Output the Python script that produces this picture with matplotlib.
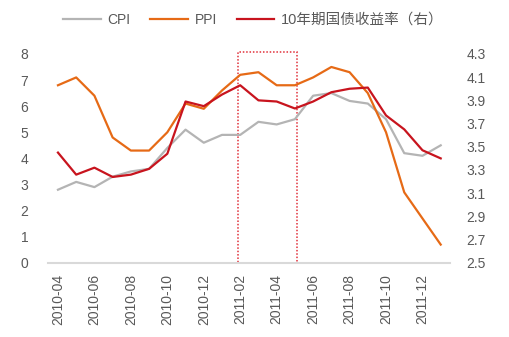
import matplotlib
matplotlib.use("Agg")
import matplotlib.pyplot as plt
from matplotlib.patches import Rectangle

plt.rcParams['font.family'] = ['Liberation Sans', 'Noto Sans CJK SC', 'DejaVu Sans']

# monthly data 2010-04 .. 2012-01
months = ['2010-04', '2010-05', '2010-06', '2010-07', '2010-08', '2010-09',
          '2010-10', '2010-11', '2010-12', '2011-01', '2011-02', '2011-03',
          '2011-04', '2011-05', '2011-06', '2011-07', '2011-08', '2011-09',
          '2011-10', '2011-11', '2011-12', '2012-01']
cpi = [2.8, 3.1, 2.9, 3.3, 3.5, 3.6, 4.4, 5.1, 4.6, 4.9, 4.9, 5.4,
       5.3, 5.5, 6.4, 6.5, 6.2, 6.1, 5.5, 4.2, 4.1, 4.5]
ppi = [6.8, 7.1, 6.4, 4.8, 4.3, 4.3, 5.0, 6.1, 5.9, 6.6, 7.2, 7.3,
       6.8, 6.8, 7.1, 7.5, 7.3, 6.5, 5.0, 2.7, 1.7, 0.7]
yield10 = [3.45, 3.26, 3.32, 3.24, 3.26, 3.31, 3.44, 3.89, 3.85, 3.95, 4.03, 3.90,
           3.89, 3.83, 3.89, 3.97, 4.00, 4.01, 3.77, 3.65, 3.47, 3.40]

# highlighted window (2011-02 .. 2011-05)
box_start, box_end = 9.9, 13.1

x = list(range(len(months)))
tick_color = '#595959'

fig = plt.figure(figsize=(5.1, 3.37), dpi=100)
ax = fig.add_axes([0.094, 0.22, 0.788, 0.62])
ax2 = ax.twinx()

l1, = ax.plot(x, cpi, color='#b4b4b4', lw=1.6, label='CPI')
l2, = ax.plot(x, ppi, color='#e66a16', lw=1.6, label='PPI')
l3, = ax2.plot(x, yield10, color='#c8141e', lw=1.6, label='10年期国债收益率（右）')

ax.set_xlim(-0.55, 21.5)
ax.set_ylim(0, 8)
ax2.set_ylim(2.5, 4.3)
ax.set_yticks(range(0, 9))
ax2.set_yticks([2.5, 2.7, 2.9, 3.1, 3.3, 3.5, 3.7, 3.9, 4.1, 4.3])
ax2.set_yticklabels(['2.5', '2.7', '2.9', '3.1', '3.3', '3.5', '3.7', '3.9', '4.1', '4.3'])
ax.set_xticks(x[::2])
ax.set_xticklabels(months[::2], rotation=90)

for a in (ax, ax2):
    for s in ('top', 'left', 'right', 'bottom'):
        a.spines[s].set_visible(False)
    a.tick_params(length=0, labelsize=10, colors=tick_color)
ax.spines['bottom'].set_visible(True)
ax.spines['bottom'].set_color('#d9d9d9')
ax.spines['bottom'].set_linewidth(1.5)
ax.tick_params(axis='y', pad=14)
ax2.tick_params(axis='y', pad=12)
ax.tick_params(axis='x', pad=8)

rect = Rectangle((box_start, 0), box_end - box_start, 8.07, fill=False,
                 edgecolor='#e0303a', linestyle=(0, (1, 1.2)), lw=1.1, clip_on=False)
ax.add_patch(rect)

leg = fig.legend(handles=[l1, l2, l3], loc='upper center', bbox_to_anchor=(0.497, 1.0),
                 ncol=3, frameon=False, fontsize=10, handlelength=2.7,
                 handletextpad=0.5, columnspacing=1.4, labelcolor=tick_color)
leg.get_texts()[2].set_fontsize(10.5)

fig.savefig('out.png', dpi=100)
